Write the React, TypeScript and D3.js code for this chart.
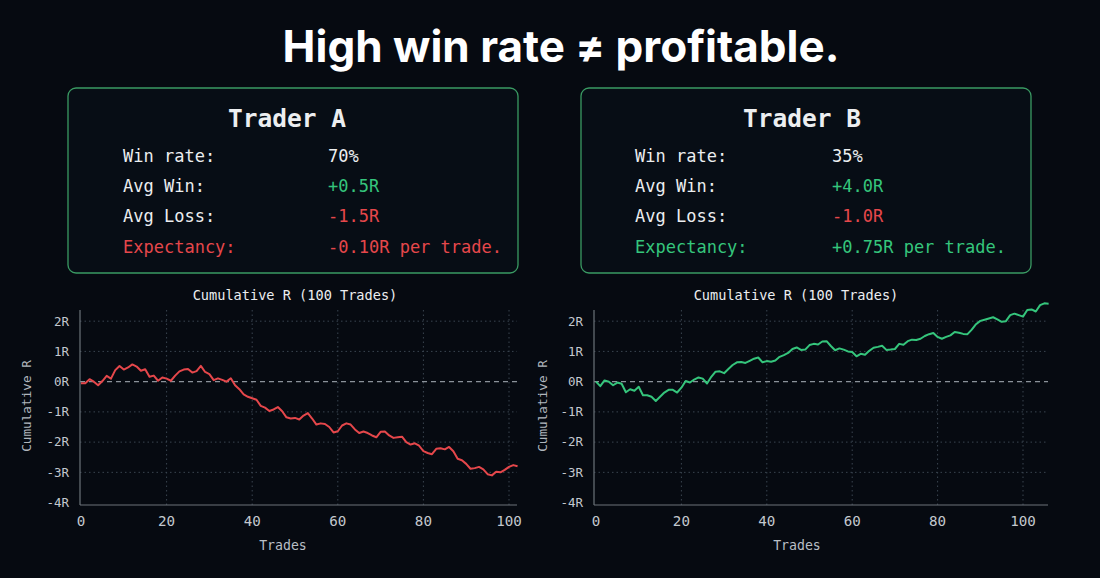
import React from "react";
import * as d3 from "d3";

// cumulative R after each trade
const cumA = [
  -0.05, -0.05, 0.08, 0.0, -0.12, 0.02, 0.19, 0.1, 0.38, 0.52,
  0.4, 0.47, 0.57, 0.5, 0.36, 0.41, 0.16, 0.2, 0.03, 0.14,
  0.1, 0.03, 0.2, 0.34, 0.4, 0.42, 0.3, 0.35, 0.52, 0.32,
  0.25, 0.05, 0.11, 0.06, 0.0, 0.11, -0.12, -0.25, -0.42, -0.5,
  -0.55, -0.6, -0.8, -0.86, -0.97, -0.92, -0.84, -0.98, -1.18, -1.22,
  -1.2, -1.25, -1.12, -1.04, -1.22, -1.42, -1.38, -1.4, -1.5, -1.68,
  -1.64, -1.45, -1.38, -1.42, -1.58, -1.7, -1.65, -1.7, -1.78, -1.84,
  -1.66, -1.65, -1.78, -1.86, -1.84, -1.82, -2.0, -2.08, -2.04, -2.12,
  -2.3, -2.36, -2.4, -2.22, -2.2, -2.24, -2.16, -2.3, -2.55, -2.6,
  -2.72, -2.88, -2.86, -2.82, -2.9, -3.06, -3.1, -2.98, -3.0, -2.92,
  -2.82, -2.76, -2.8,
];

const cumB = [
  0.0, -0.15, 0.04, 0.0, -0.12, -0.03, -0.07, -0.35, -0.25, -0.3,
  -0.17, -0.45, -0.45, -0.5, -0.64, -0.5, -0.36, -0.27, -0.27, -0.36,
  -0.2, 0.02, -0.03, 0.07, 0.14, 0.1, -0.06, 0.16, 0.33, 0.34,
  0.28, 0.42, 0.55, 0.64, 0.65, 0.62, 0.69, 0.76, 0.8, 0.64,
  0.68, 0.66, 0.7, 0.82, 0.88, 0.95, 1.08, 1.13, 1.05, 1.06,
  1.21, 1.25, 1.23, 1.33, 1.34, 1.18, 1.04, 1.1, 1.06, 1.0,
  0.98, 0.84, 0.92, 0.89, 1.02, 1.12, 1.15, 1.19, 1.05, 1.06,
  1.08, 1.25, 1.22, 1.34, 1.39, 1.38, 1.42, 1.51, 1.57, 1.61,
  1.48, 1.42, 1.48, 1.53, 1.64, 1.62, 1.58, 1.57, 1.72, 1.9,
  2.01, 2.05, 2.09, 2.13, 2.06, 1.98, 2.0, 2.2, 2.25, 2.2,
  2.15, 2.37, 2.39, 2.32, 2.53, 2.59, 2.58,
];

const yTicks = [2, 1, 0, -1, -2, -3, -4];
const xTicks = [0, 20, 40, 60, 80, 100];

const statLabels = ["Win rate:", "Avg Win:", "Avg Loss:", "Expectancy:"];
const statsA = ["70%", "+0.5R", "-1.5R", "-0.10R per trade."];
const statsB = ["35%", "+4.0R", "-1.0R", "+0.75R per trade."];

const BG = "#060a11";
const GREEN = "#35c57c";
const RED = "#e5474b";
const WHITE = "#eceef0";
const MONO = "'DejaVu Sans Mono', 'Liberation Mono', monospace";

type PanelProps = {
  data: number[];
  color: string;
  x0: number; // pixel of trade 0
  x100: number; // pixel of trade 100
  left: number;
  right: number;
  titleX: number;
  xLabelX: number;
  yLabelX: number;
};

const Panel = ({ data, color, x0, x100, left, right, titleX, xLabelX, yLabelX }: PanelProps) => {
  const top = 310;
  const bottom = 505;
  const x = d3.scaleLinear().domain([0, 100]).range([x0, x100]);
  const y = d3.scaleLinear().domain([-4.08, 2.37]).range([bottom, top]);
  const line = d3
    .line<number>()
    .x((_, i) => x(i))
    .y((d) => y(d));

  return (
    <g fontFamily={MONO}>
      <text x={titleX} y={300} textAnchor="middle" fontSize={13.6} fill={WHITE}>
        Cumulative R (100 Trades)
      </text>
      {/* grid */}
      {yTicks
        .filter((t) => t !== 0 && t !== -4)
        .map((t) => (
          <line key={"h" + t} x1={left} x2={right} y1={y(t)} y2={y(t)}
            stroke="#3a4550" strokeWidth={1} strokeDasharray="1.5,3" />
        ))}
      {xTicks
        .filter((t) => t !== 0)
        .map((t) => (
          <line key={"v" + t} x1={x(t)} x2={x(t)} y1={top} y2={bottom}
            stroke="#3a4550" strokeWidth={1} strokeDasharray="1.5,3" />
        ))}
      <line x1={left} x2={right} y1={y(0)} y2={y(0)} stroke="#8b929a"
        strokeWidth={1.2} strokeDasharray="5,4" />
      {/* axes */}
      <line x1={left} x2={left} y1={top} y2={bottom} stroke="#6c737b" strokeWidth={1.2} />
      <line x1={left} x2={right} y1={bottom} y2={bottom} stroke="#6c737b" strokeWidth={1.2} />
      {yTicks.map((t) => (
        <text key={"yl" + t} x={left - 11} y={y(t)} dy="0.35em" textAnchor="end"
          fontSize={12.5} fill="#c3c8ce">
          {t + "R"}
        </text>
      ))}
      {xTicks.map((t) => (
        <text key={"xl" + t} x={x(t)} y={526} textAnchor="middle" fontSize={14.2} fill="#c3c8ce">
          {t}
        </text>
      ))}
      <text x={xLabelX} y={550} textAnchor="middle" fontSize={13.2} fill="#b9bfc6">
        Trades
      </text>
      <text transform={`translate(${yLabelX},406) rotate(-90)`} textAnchor="middle"
        dy="0.35em" fontSize={12.7} fill="#b0b6bd">
        Cumulative R
      </text>
      <path d={line(data) || ""} fill="none" stroke={color} strokeWidth={2}
        strokeLinejoin="round" />
    </g>
  );
};

type BoxProps = {
  left: number;
  name: string;
  values: string[];
  colors: string[];
  labelColors: string[];
  nameX: number;
  labelX: number;
  valueX: number;
};

const StatBox = ({ left, name, values, colors, labelColors, nameX, labelX, valueX }: BoxProps) => {
  const rows = [162, 192, 222, 253];
  return (
    <g fontFamily={MONO}>
      <rect x={left} y={88} width={450} height={185} rx={8} fill="#070d15"
        stroke="#3a9a63" strokeWidth={1.3} />
      <text x={nameX} y={127} textAnchor="middle" fontSize={24.5} fontWeight={700} fill={WHITE}>
        {name}
      </text>
      {statLabels.map((s, i) => (
        <text key={s} x={labelX} y={rows[i]} fontSize={17} fill={labelColors[i]}>
          {s}
        </text>
      ))}
      {values.map((v, i) => (
        <text key={i} x={valueX} y={rows[i]} fontSize={17} fill={colors[i]}>
          {v}
        </text>
      ))}
    </g>
  );
};

export default function App() {
  return (
    <svg width={1100} height={578} style={{ display: "block", position: "absolute", left: 0, top: 0 }}>
      <rect width={1100} height={578} fill={BG} />
      <text x={561} y={62} textAnchor="middle" fontFamily="Inter, 'Noto Sans', sans-serif"
        fontWeight={700} fontSize={44} fill="#ffffff">
        High win rate ≠ profitable.
      </text>
      <StatBox left={68} name="Trader A" values={statsA}
        colors={[WHITE, GREEN, RED, RED]} labelColors={[WHITE, WHITE, WHITE, RED]}
        nameX={287} labelX={123} valueX={328} />
      <StatBox left={581} name="Trader B" values={statsB}
        colors={[WHITE, GREEN, RED, GREEN]} labelColors={[WHITE, WHITE, WHITE, GREEN]}
        nameX={802} labelX={635} valueX={832} />
      <Panel data={cumA} color={RED} x0={81} x100={509} left={80} right={517}
        titleX={295} xLabelX={283} yLabelX={27} />
      <Panel data={cumB} color={GREEN} x0={596} x100={1023} left={594} right={1048}
        titleX={796} xLabelX={797} yLabelX={543} />
    </svg>
  );
}
